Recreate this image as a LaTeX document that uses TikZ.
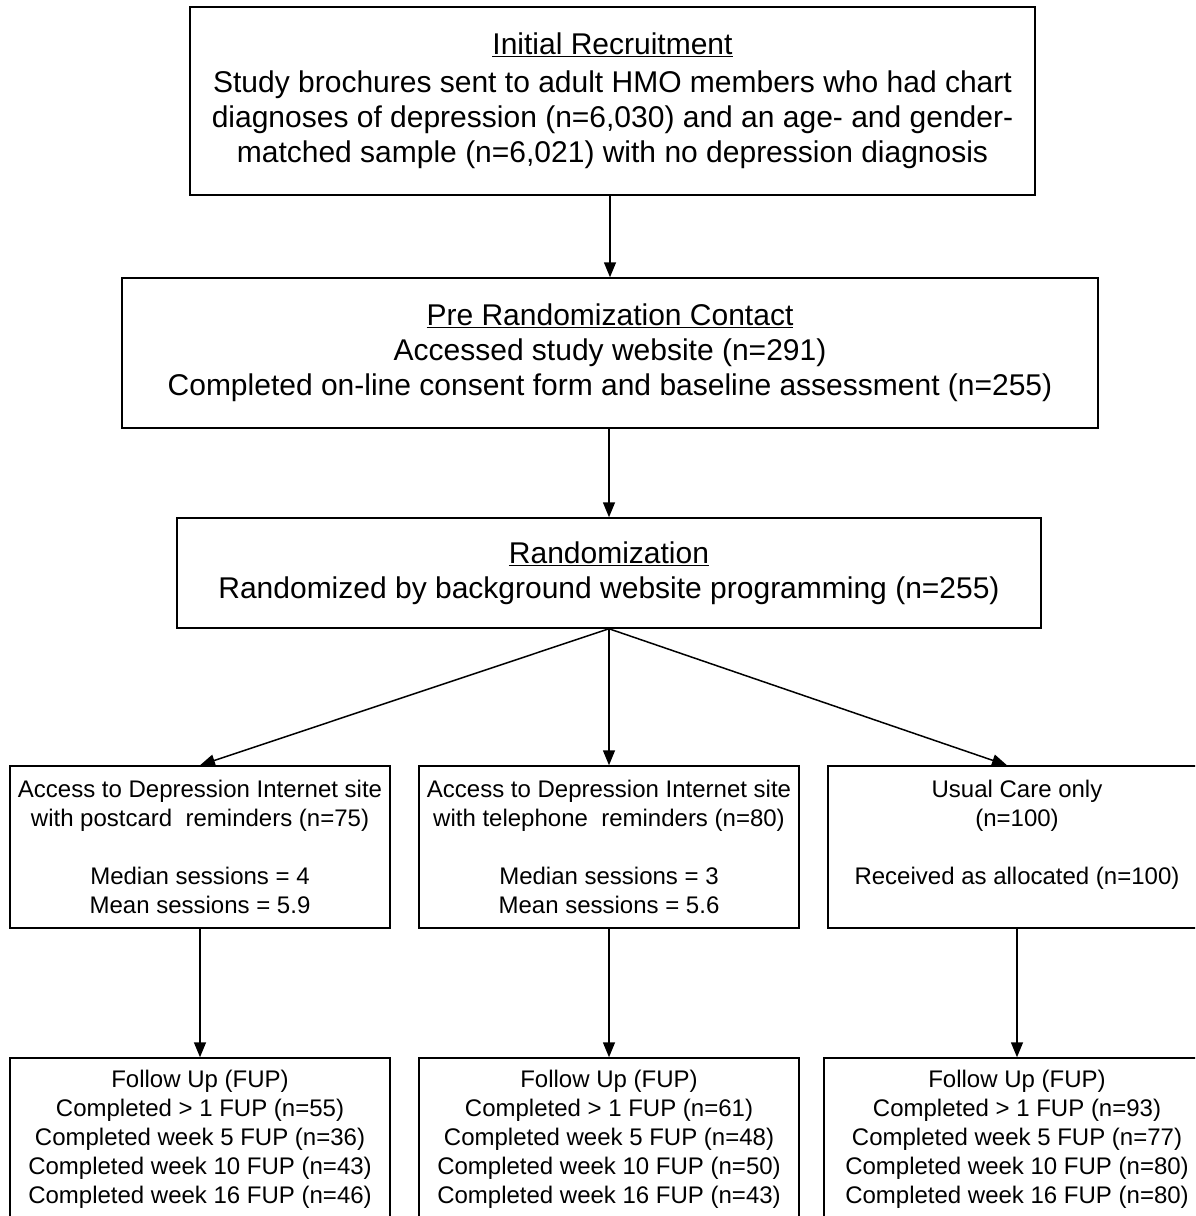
\documentclass[tikz,border=0pt]{standalone}
\usepackage{fontspec}
\setmainfont{Liberation Sans}
\usetikzlibrary{arrows.meta}
\begin{document}
\begin{tikzpicture}[x=1pt,y=-1pt,
  box/.style={draw, line width=1.5pt, align=center, inner sep=0pt},
  big/.style={font=\fontsize{30}{35}\selectfont},
  small/.style={font=\fontsize{24}{29}\selectfont},
  arr/.style={-{Triangle[length=15pt,width=12pt]}, line width=1.5pt}]
\useasboundingbox (0,0) rectangle (1195,1216);
\clip (0,0) rectangle (1195,1216);
\fill[white] (0,0) rectangle (1195,1216);
\node[box,big,minimum width=845pt,minimum height=188pt] (init) at (612.5,101)
  {\underline{Initial Recruitment}\\[3pt]
   Study brochures sent to adult HMO members who had chart\\
   diagnoses of depression (n=6,030) and an age- and gender-\\
   matched sample (n=6,021) with no depression diagnosis};
\node[box,big,minimum width=976pt,minimum height=150pt] (pre) at (610,353)
  {\underline{Pre Randomization Contact}\\
   Accessed study website (n=291)\\
   Completed on-line consent form and baseline assessment (n=255)};
\node[box,big,minimum width=864pt,minimum height=110pt] (rand) at (609,573)
  {\underline{Randomization}\\
   Randomized by background website programming (n=255)};
\node[box,small,minimum width=380pt,minimum height=162pt] (post) at (200,847)
  {Access to Depression Internet site\\
   with postcard\ \ reminders (n=75)\\[29pt]
   Median sessions = 4\\
   Mean sessions = 5.9};
\node[box,small,minimum width=380pt,minimum height=162pt] (tel) at (609,847)
  {Access to Depression Internet site\\
   with telephone\ \ reminders (n=80)\\[29pt]
   Median sessions = 3\\
   Mean sessions = 5.6};
\node[box,small,minimum width=378pt,minimum height=162pt] (usual) at (1017,847)
  {Usual Care only\\
   (n=100)\\[29pt]
   Received as allocated (n=100)\\
   \mbox{}};
\node[box,small,minimum width=380pt,minimum height=162pt] (fup1) at (200,1139)
  {Follow Up (FUP)\\
   Completed > 1 FUP (n=55)\\
   Completed week 5 FUP (n=36)\\
   Completed week 10 FUP (n=43)\\
   Completed week 16 FUP (n=46)};
\node[box,small,minimum width=380pt,minimum height=162pt] (fup2) at (609,1139)
  {Follow Up (FUP)\\
   Completed > 1 FUP (n=61)\\
   Completed week 5 FUP (n=48)\\
   Completed week 10 FUP (n=50)\\
   Completed week 16 FUP (n=43)};
\node[box,small,minimum width=386pt,minimum height=162pt] (fup3) at (1017,1139)
  {Follow Up (FUP)\\
   Completed > 1 FUP (n=93)\\
   Completed week 5 FUP (n=77)\\
   Completed week 10 FUP (n=80)\\
   Completed week 16 FUP (n=80)};
\draw[arr] (init.south -| pre.north) -- (pre.north);
\draw[arr] (pre.south -| rand.north) -- (rand.north);
\draw[arr] (rand.south) -- (post.north);
\draw[arr] (rand.south) -- (tel.north);
\draw[arr] (rand.south) -- ([xshift=-10pt]usual.north);
\draw[arr] (post.south) -- (fup1.north);
\draw[arr] (tel.south) -- (fup2.north);
\draw[arr] (usual.south) -- (fup3.north);
\end{tikzpicture}
\end{document}
